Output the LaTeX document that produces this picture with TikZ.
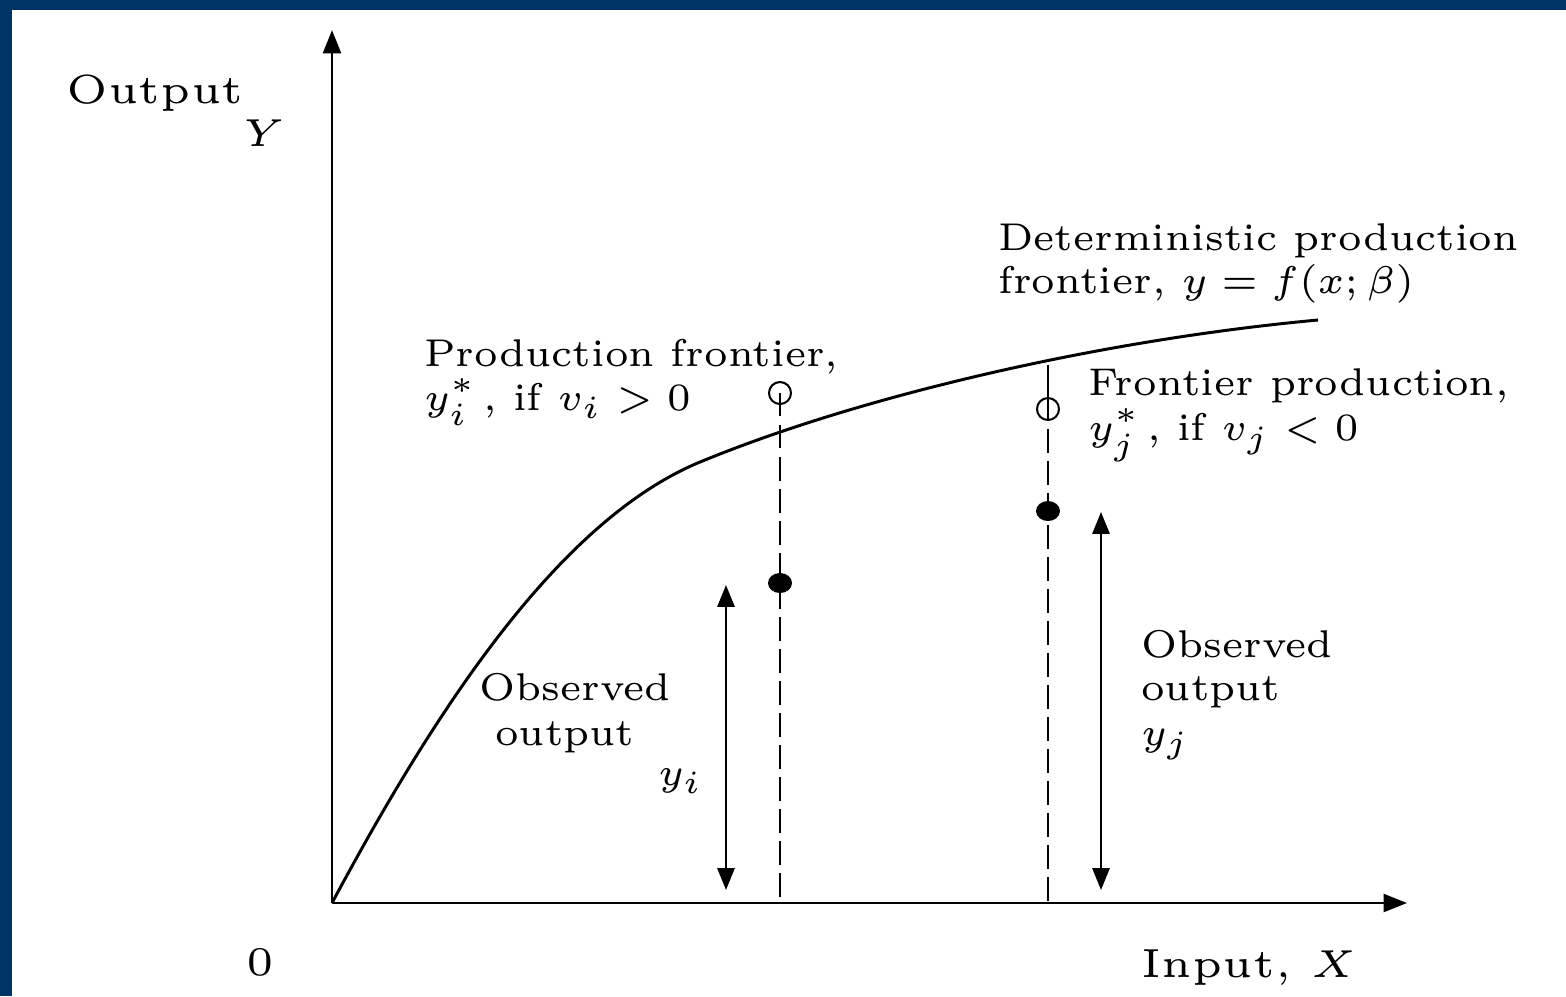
\documentclass[tikz,border=0pt]{standalone}
\usetikzlibrary{arrows.meta}
\DeclareMathSizes{6}{6}{4}{3}
\definecolor{bandblue}{RGB}{0,51,102}
\begin{document}
\begin{tikzpicture}[x=0.128pt,y=-0.128pt,
  ax/.style={line width=0.33pt,-{Triangle[length=3pt,width=2.3pt]}},
  dbl/.style={line width=0.28pt,{Triangle[length=2.8pt,width=2.2pt]}-{Triangle[length=2.8pt,width=2.2pt]}},
  dsh/.style={line width=0.26pt,dash pattern=on 3pt off 1.1pt},
  crv/.style={line width=0.38pt},
  txt/.style={anchor=base west,inner sep=0pt,scale=0.825,font=\fontsize{6}{6.6}\selectfont},
  big/.style={anchor=base west,inner sep=0pt,font=\fontsize{5.2}{6}\selectfont},
  hollow/.style={line width=0.26pt,fill=white},
  solid dot/.style={fill=black}]
% background and frame bands
\fill[white] (0,0) rectangle (1566,996);
\useasboundingbox (0,0) rectangle (1566,996);
\fill[bandblue] (0,0) rectangle (1566,10);
\fill[bandblue] (0,0) rectangle (12,996);
% coordinates
\coordinate (O) at (332,903);
\coordinate (Ytip) at (332,30);
\coordinate (Xtip) at (1407,903);
\coordinate (fi) at (780,393);
\coordinate (fj) at (1048,409);
\coordinate (oi) at (780,583);
\coordinate (oj) at (1048,511);
\coordinate (bi) at (780,903);
\coordinate (bj) at (1048,903);
\coordinate (tj) at (1048,365);
\coordinate (ai1) at (726,585);
\coordinate (ai2) at (726,890);
\coordinate (aj1) at (1101,512);
\coordinate (aj2) at (1101,890);
\coordinate (knee) at (700,462);
\coordinate (cend) at (1318,320);
% axes
\draw[ax] (O) -- (Ytip);
\draw[ax] (O) -- (Xtip);
% frontier curve
\draw[crv] (O) .. controls (430,720) and (555,522) .. (knee)
  .. controls (860,396) and (1100,340) .. (cend);
% dashed verticals
\draw[dsh] (fi) -- (bi);
\draw[dsh] (tj) -- (bj);
% points
\draw[hollow] (fi) circle[radius=11];
\draw[hollow] (fj) circle[radius=11];
\draw[line width=0.26pt] (tj) -- (1048,420);
\draw[line width=0.26pt] (fi) -- (780,405);
\fill[solid dot] (oi) ellipse[x radius=12, y radius=10];
\fill[solid dot] (oj) ellipse[x radius=12, y radius=10];
% double arrows
\draw[dbl] (ai2) -- (ai1);
\draw[dbl] (aj2) -- (aj1);
% labels
\node[big] (out) at (65,103) {Output};
\node[big] (Ylab) at (241,146) {$Y$};
\node[big] (zero) at (245,975) {0};
\node[big] (inp) at (1140,977) {Input, $X$};
\node[txt] (det1) at (997,250) {Deterministic production};
\node[txt] (det2) at (997,293) {frontier, $y=f(x;\beta)$};
\node[txt] (pf1) at (423,366) {Production frontier,};
\node[txt] (pf2) at (423,410) {$y_i^*$\,, if $v_i>0$};
\node[txt] (fp1) at (1087,395) {Frontier production,};
\node[txt] (fp2) at (1087,440) {$y_j^*$\,, if $v_j<0$};
\node[txt] (ob1) at (478,700) {Observed};
\node[txt] (ob2) at (494,745) {output};
\node[txt] (yi) at (657,785) {$y_i$};
\node[txt] (ob3) at (1140,657) {Observed};
\node[txt] (ob4) at (1140,700) {output};
\node[txt] (yj) at (1140,745) {$y_j$};
\end{tikzpicture}
\end{document}
